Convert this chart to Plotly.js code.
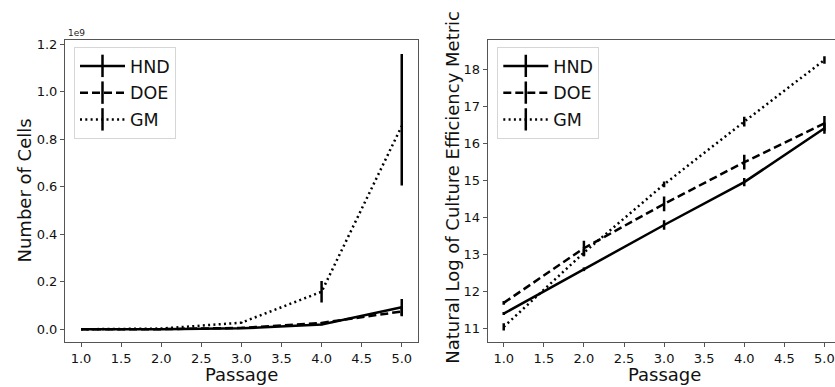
<!DOCTYPE html>
<html>
<head>
<meta charset="utf-8">
<script src="https://cdn.plot.ly/plotly-3.0.1.min.js"></script>
<style>html,body{margin:0;padding:0;background:#fff;}#chart{width:835px;height:387px;}</style>
</head>
<body>
<div id="chart"></div>
<script>
// ---- data ----
const passage = [1, 2, 3, 4, 5];
const seriesNames = ["HND", "DOE", "GM"];
// Number of cells (units of 1e9)
const cellsHND = [0.0001, 0.0003, 0.004, 0.020, 0.093];
const cellsHNDErrPlus = [0.0, 0.0, 0.001, 0.003, 0.035];
const cellsHNDErrMinus = [0.0, 0.0, 0.001, 0.003, 0.035];
const cellsDOE = [0.0001, 0.0005, 0.006, 0.027, 0.075];
const cellsDOEErrPlus = [0.0, 0.0, 0.001, 0.004, 0.020];
const cellsDOEErrMinus = [0.0, 0.0, 0.001, 0.004, 0.020];
const cellsGM = [0.0001, 0.003, 0.028, 0.158, 0.856];
const cellsGMErrPlus = [0.0, 0.001, 0.003, 0.045, 0.303];
const cellsGMErrMinus = [0.0, 0.001, 0.003, 0.045, 0.251];
// Natural log of culture efficiency metric
const lnHND = [11.40, 12.60, 13.80, 14.96, 16.42];
const lnHNDErr = [0.04, 0.05, 0.13, 0.11, 0.15];
const lnDOE = [11.69, 13.17, 14.37, 15.50, 16.55];
const lnDOEErr = [0.05, 0.20, 0.20, 0.20, 0.20];
const lnGM = [11.04, 13.05, 14.90, 16.60, 18.27];
const lnGMErr = [0.10, 0.10, 0.08, 0.13, 0.10];
const xTicks = [1.0, 1.5, 2.0, 2.5, 3.0, 3.5, 4.0, 4.5, 5.0];
const leftYTicks = [0.0, 0.2, 0.4, 0.6, 0.8, 1.0, 1.2];
const rightYTicks = [11, 12, 13, 14, 15, 16, 17, 18];

// ---- styles ----
const W = 835, H = 387;
const dashes = ["solid", "8px,4px", "2px,3.3px"];
const LW = 2.5;
const FONT = "DejaVu Sans";

function dataTrace(y, errPlus, errMinus, i, xa, ya) {
  return {
    x: passage, y: y, xaxis: xa, yaxis: ya, type: "scatter", mode: "lines",
    line: {color: "#000", width: LW, dash: dashes[i]},
    error_y: {type: "data", symmetric: false, array: errPlus, arrayminus: errMinus,
              visible: true, color: "#000", thickness: LW, width: 0},
    showlegend: false, hoverinfo: "skip"
  };
}
function legendTrace(i, xa, ya, leg) {
  return {
    x: [null], y: [null], xaxis: xa, yaxis: ya, type: "scatter", mode: "lines+markers",
    name: seriesNames[i], legend: leg, legendgroup: leg + seriesNames[i],
    line: {color: "#000", width: LW, dash: dashes[i]},
    marker: {symbol: "line-ns-open", size: 16, line: {color: "#000", width: LW}, color: "#000"},
    showlegend: true
  };
}

const traces = [
  dataTrace(cellsHND, cellsHNDErrPlus, cellsHNDErrMinus, 0, "x", "y"),
  dataTrace(cellsDOE, cellsDOEErrPlus, cellsDOEErrMinus, 1, "x", "y"),
  dataTrace(cellsGM, cellsGMErrPlus, cellsGMErrMinus, 2, "x", "y"),
  dataTrace(lnHND, lnHNDErr, lnHNDErr, 0, "x2", "y2"),
  dataTrace(lnDOE, lnDOEErr, lnDOEErr, 1, "x2", "y2"),
  dataTrace(lnGM, lnGMErr, lnGMErr, 2, "x2", "y2"),
  legendTrace(0, "x", "y", "legend"),
  legendTrace(1, "x", "y", "legend"),
  legendTrace(2, "x", "y", "legend"),
  legendTrace(0, "x2", "y2", "legend2"),
  legendTrace(1, "x2", "y2", "legend2"),
  legendTrace(2, "x2", "y2", "legend2")
];

const tickFont = {family: FONT, size: 13, color: "#111"};
const axisCommon = {
  showgrid: false, zeroline: false, showline: true, linecolor: "#555", linewidth: 1,
  ticks: "outside", ticklen: 4, tickwidth: 1, tickcolor: "#555",
  tickfont: tickFont, automargin: false, fixedrange: true
};
const yBot = (H - 342) / H, yTop = (H - 40) / H;
const leftL = 65 / W, leftR = 417.8 / W;
const rightL = 487.7 / W;
// right panel: axis runs past the image edge (clipped), so the range ends where the page ends
const pxPerUnitR = 320.7 / 4;
const rightEnd = 0.8 + (W - 487.7) / pxPerUnitR;

const legendCommon = {
  bgcolor: "rgba(255,255,255,0.8)", bordercolor: "#d6d6d6", borderwidth: 1,
  font: {family: FONT, size: 17.5, color: "#111"},
  xanchor: "left", yanchor: "top", traceorder: "grouped", tracegroupgap: 1,
  itemwidth: 45,
  itemclick: false, itemdoubleclick: false
};

const layout = {
  width: W, height: H,
  margin: {l: 0, r: 0, t: 0, b: 0},
  paper_bgcolor: "#fff", plot_bgcolor: "#fff",
  font: {family: FONT, color: "#111"},
  xaxis: Object.assign({}, axisCommon, {
    domain: [leftL, leftR], range: [0.8, 5.2], tickvals: xTicks, tickformat: ".1f",
    mirror: true, anchor: "y"
  }),
  yaxis: Object.assign({}, axisCommon, {
    domain: [yBot, yTop], range: [-0.0535, 1.218], tickvals: leftYTicks, tickformat: ".1f",
    mirror: true, anchor: "x"
  }),
  xaxis2: Object.assign({}, axisCommon, {
    domain: [rightL, 1], range: [0.8, rightEnd], tickvals: xTicks, tickformat: ".1f",
    mirror: true, anchor: "y2"
  }),
  yaxis2: Object.assign({}, axisCommon, {
    domain: [yBot, yTop], range: [10.63, 18.81], tickvals: rightYTicks,
    mirror: false, anchor: "x2"
  }),
  legend: Object.assign({}, legendCommon, {x: 74 / W, y: (H - 47) / H}),
  legend2: Object.assign({}, legendCommon, {x: 497.3 / W, y: (H - 47) / H}),
  annotations: [
    {text: "1e9", xref: "paper", yref: "paper", x: 65.5 / W, y: (H - 33) / H,
     xanchor: "left", yanchor: "middle", showarrow: false, font: {family: FONT, size: 9, color: "#222"}},
    {text: "Number of Cells", xref: "paper", yref: "paper", x: 23.5 / W, y: (H - 191) / H,
     textangle: -90, xanchor: "center", yanchor: "middle", showarrow: false, font: {family: FONT, size: 18, color: "#111"}},
    {text: "Passage", xref: "paper", yref: "paper", x: 241.4 / W, y: (H - 374) / H,
     xanchor: "center", yanchor: "middle", showarrow: false, font: {family: FONT, size: 18, color: "#111"}},
    {text: "Natural Log of Culture Efficiency Metric", xref: "paper", yref: "paper", x: 451.7 / W, y: (H - 187) / H,
     textangle: -90, xanchor: "center", yanchor: "middle", showarrow: false, font: {family: FONT, size: 18, color: "#111"}},
    {text: "Passage", xref: "paper", yref: "paper", x: 664 / W, y: (H - 374) / H,
     xanchor: "center", yanchor: "middle", showarrow: false, font: {family: FONT, size: 18, color: "#111"}}
  ]
};

Plotly.newPlot("chart", traces, layout, {staticPlot: true, displayModeBar: false});
</script>
</body>
</html>
